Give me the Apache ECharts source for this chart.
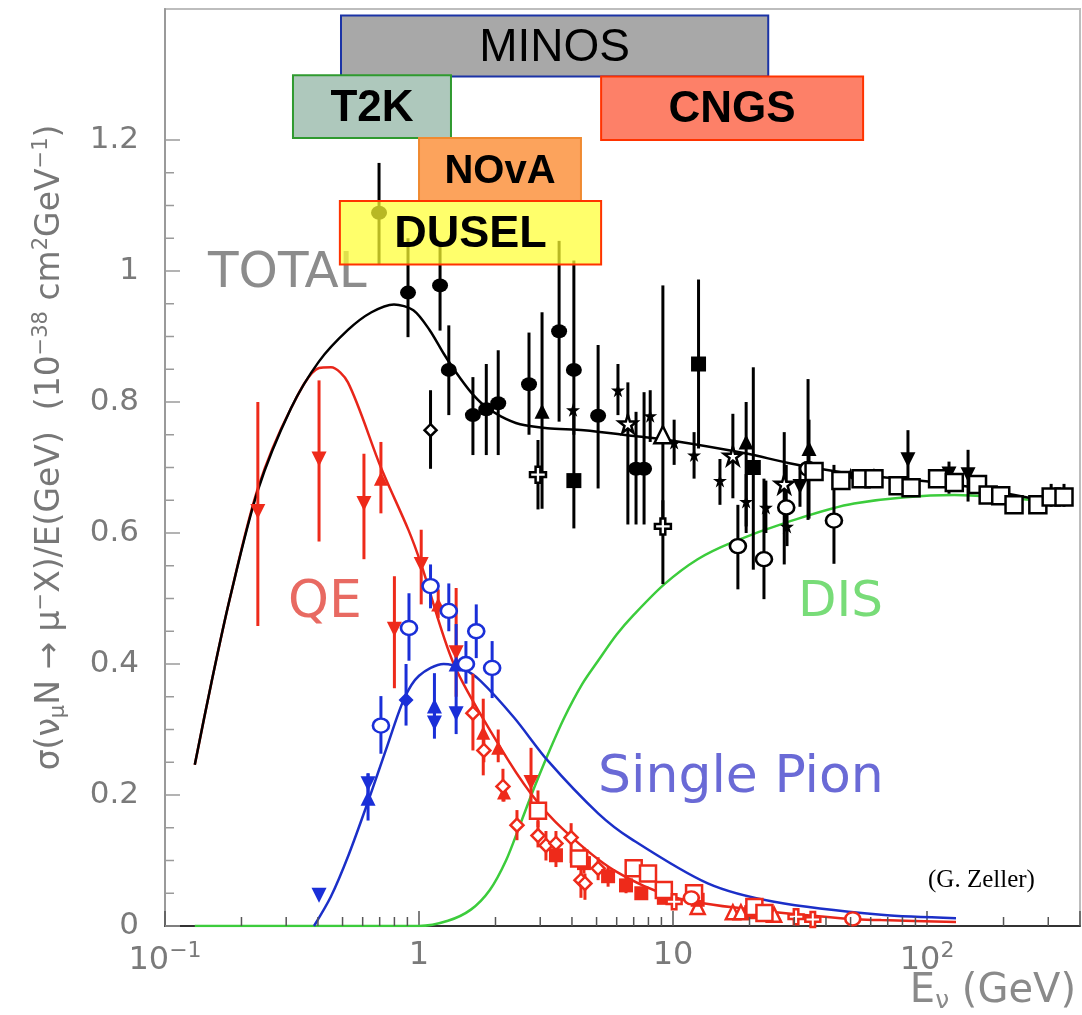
<!DOCTYPE html>
<html>
<head>
<meta charset="utf-8">
<script src="https://cdn.jsdelivr.net/npm/echarts@6/dist/echarts.min.js"></script>
<style>
  html, body { margin: 0; padding: 0; background: #fff; }
  #chart { width: 1082px; height: 1015px; }
</style>
</head>
<body>
<div id="chart"></div>
<script>
// theory curves: [E (GeV), sigma/E]
const totalCurve = [[0.131,0.246],[0.152,0.37],[0.18,0.50],[0.232,0.665],[0.313,0.79],[0.404,0.862],[0.525,0.91],[0.65,0.937],[0.797,0.949],[0.95,0.94],[1.1,0.91],[1.25,0.874],[1.4,0.845],[1.6,0.815],[1.8,0.795],[2.1,0.778],[2.5,0.766],[3.2,0.760],[4.46,0.757],[7.02,0.748],[9.55,0.742],[19.7,0.721],[28.4,0.707],[51.6,0.690],[128,0.674],[299,0.648]];
const qeCurve = [[0.131,0.246],[0.152,0.37],[0.18,0.50],[0.232,0.668],[0.313,0.79],[0.404,0.852],[0.45,0.853],[0.525,0.83],[0.708,0.70],[0.91,0.604],[1.02,0.552],[1.37,0.40],[2.05,0.278],[2.76,0.202],[3.73,0.146],[5.86,0.085],[10.1,0.044],[18.5,0.027],[45.6,0.012],[66,0.009],[130,0.006]];
const pionCurve = [[0.386,0],[0.45,0.045],[0.53,0.11],[0.63,0.19],[0.75,0.275],[0.874,0.347],[1.0,0.382],[1.25,0.40],[1.5,0.392],[1.75,0.374],[2.37,0.318],[3.22,0.252],[5.07,0.172],[6.84,0.133],[13.7,0.065],[25,0.037],[66,0.017],[130,0.012]];
const disCurve = [[0.131,0],[0.6,0],[1.0,0],[1.3,0.008],[1.6,0.025],[1.9,0.055],[2.2,0.10],[2.5,0.155],[2.8,0.205],[3.2,0.26],[3.73,0.318],[4.4,0.37],[5.07,0.405],[6.0,0.445],[7.0,0.475],[9.25,0.522],[12.5,0.56],[16.9,0.585],[28.4,0.617],[51.6,0.645],[128,0.658],[299,0.648]];

// measurements: [E, sigma/E, low end of error bar, high end of error bar]
const totFilledCircle = [[0.696,1.089,1.01,1.165],[0.905,0.967,0.899,1.05],[1.21,0.978,0.909,1.04],[1.31,0.849,0.78,0.917],[1.63,0.78,0.719,0.838],[1.84,0.789,0.719,0.858],[2.05,0.798,0.719,0.879],[2.71,0.827,0.75,0.906],[3.56,0.908,0.77,1.046],[4.07,0.849,0.75,1.016],[5.07,0.779,0.668,0.887],[7.15,0.698,0.613,0.785],[7.69,0.698,0.613,0.815]];
const totFilledSquare = [[4.07,0.68,0.607,0.79],[12.6,0.858,0.729,0.987],[20.7,0.70,0.544,0.853]];
const totFilledStar = [[4.04,0.788],[6.07,0.818,0.78,0.858],[8.13,0.779,0.739,0.818],[10.1,0.738,0.704,0.773],[12.1,0.719,0.683,0.754],[15.3,0.68,0.643,0.713],[19.4,0.648,0.61,0.69],[23.2,0.639,0.60,0.68],[28.1,0.61,0.58,0.64],[50,0.689],[61.8,0.689]];
const totOpenStar = [[6.64,0.767,0.613,0.83],[17.2,0.718,0.653,0.782],[27.4,0.675,0.552,0.754]];
const totFilledTriUp = [[3.05,0.786,0.637,0.937],[19.4,0.739,0.60,0.80],[34.3,0.729,0.622,0.773]];
const totOpenTriUp = [[9.12,0.75,0.61,0.978]];
const totFilledTriDown = [[31.6,0.671,0.64,0.704],[84.1,0.712,0.66,0.757],[122,0.69,0.66,0.709],[145,0.689,0.648,0.727]];
const totOpenCircle = [[18.0,0.58,0.514,0.643],[22.8,0.56,0.499,0.683],[27.9,0.639,0.607,0.704],[34.0,0.698,0.62,0.835],[43.0,0.619,0.553,0.704]];
const totOpenSquare = [[35.9,0.694],[45.8,0.68],[55,0.683],[61.8,0.683],[76.9,0.672],[86.5,0.669],[110,0.683],[128,0.677],[158,0.674],[174,0.658],[195,0.657],[220,0.643],[273,0.643],[308,0.655,0.64,0.675],[346,0.655,0.64,0.675]];
const totOpenDiamond = [[1.11,0.757,0.698,0.818]];
const totOpenCross = [[2.94,0.689,0.636,0.742],[9.12,0.61,0.522,0.65]];

const qeTriDown = [[0.232,0.633,0.458,0.80],[0.404,0.713,0.587,0.833],[0.607,0.645,0.56,0.721],[0.80,0.453,0.363,0.534],[1.02,0.552,0.491,0.605],[1.40,0.417,0.35,0.516],[2.76,0.219,0.176,0.272]];
const qeTriUp = [[0.708,0.683,0.63,0.739],[1.19,0.491,0.47,0.514],[1.79,0.295,0.23,0.347],[2.05,0.272,0.25,0.30],[2.16,0.204,0.19,0.22]];
const qeOpenTriUp = [[12.5,0.029],[17.2,0.021],[18.5,0.021],[25,0.017]];
const qeOpenDiamond = [[1.63,0.325,0.268,0.385],[1.80,0.268,0.25,0.29],[2.14,0.213,0.19,0.24],[2.43,0.154,0.131,0.177],[2.94,0.138,0.12,0.16],[3.16,0.123,0.10,0.145],[3.46,0.126,0.105,0.145],[3.97,0.135,0.096,0.157],[4.34,0.07,0.043,0.096],[4.5,0.065,0.04,0.08],[5.07,0.088,0.07,0.105]];
const qeFilledSquare = [[3.46,0.108,0.09,0.125],[4.46,0.096,0.08,0.12],[5.55,0.076,0.06,0.09],[6.53,0.062,0.05,0.075],[7.5,0.05],[9.2,0.043],[12.5,0.04],[20.3,0.021]];
const qeOpenSquare = [[2.94,0.176,0.151,0.207],[4.27,0.103],[7.0,0.088],[7.97,0.08],[9.2,0.055],[12.1,0.05],[20.9,0.029],[22.9,0.02]];
const qeOpenCross = [[10.1,0.037],[30.5,0.014],[35.5,0.01]];
const qeOpenCircle = [[11.8,0.043],[51,0.011]];

const pionTriDown = [[0.404,0.047],[0.63,0.217,0.195,0.233],[1.15,0.31,0.286,0.34],[1.40,0.324,0.293,0.461]];
const pionTriUp = [[0.63,0.195,0.161,0.233],[1.15,0.336,0.30,0.386],[1.40,0.40]];
const pionDiamond = [[0.889,0.345,0.306,0.40]];
const pionOpenCircle = [[0.708,0.306,0.263,0.351],[0.913,0.455,0.405,0.508],[1.11,0.519,0.485,0.552],[1.31,0.481,0.45,0.523],[1.53,0.40,0.37,0.435],[1.68,0.45,0.409,0.491],[1.94,0.394,0.348,0.435]];

// experiment energy ranges drawn as boxes
const expNames = ['MINOS', 'T2K', 'CNGS', 'NOvA', 'DUSEL'];
const expEnergy = [[0.493, 23.7], [0.319, 1.336], [5.21, 56], [1.0, 4.34], [0.488, 5.21]];
const expRow = [[1.297, 1.39], [1.203, 1.299], [1.20, 1.297], [1.107, 1.203], [1.01, 1.107]];
const expFill = ['#a8a8a8', '#aec8bc', '#fd8068', '#fca35c', 'rgba(255,255,50,0.72)'];
const expStroke = ['#1b33a6', '#2f9a2f', '#ff3300', '#f08a30', '#ff3300'];
const expFont = ['normal 46px "Liberation Sans"', 'bold 44px "Liberation Sans"', 'bold 44px "Liberation Sans"', 'bold 40px "Liberation Sans"', 'bold 45px "Liberation Sans"'];

// axis ticks
const xMinorTicks = [0.2,0.3,0.4,0.5,0.6,0.7,0.8,0.9,2,3,4,5,6,7,8,9,20,30,40,50,60,70,80,90,200,300];
const yMajorTicks = [0, 0.2, 0.4, 0.6, 0.8, 1.0, 1.2];
const yMinorTicks = [0.05,0.1,0.15,0.25,0.3,0.35,0.45,0.5,0.55,0.65,0.7,0.75,0.85,0.9,0.95,1.05,1.1,1.15];
const xTickText = {'-1': '{t|10}{sup|−1}', '0': '{t|1}', '1': '{t|10}', '2': '{t|10}{sup|2}'};

const FONT = '"DejaVu Sans", sans-serif';
const STAR = 'path://M50,0 L61,35 L98,35 L68,57 L79,91 L50,70 L21,91 L32,57 L2,35 L39,35 Z';
const CROSS = 'path://M35,0 H65 V35 H100 V65 H65 V100 H35 V65 H0 V35 H35 Z';

function points(pts, color, symbol, opts) {
    opts = opts || {};
    let rows = pts.map(p => p.length > 2 ? p : [p[0], p[1], p[1], p[1]]);
    return [{
        type: 'custom',
        z: 3,
        clip: false,
        data: rows,
        encode: { x: 0, y: [1, 2, 3] },
        renderItem: function (params, api) {
            let a = api.coord([api.value(0), api.value(3)]);
            let b = api.coord([api.value(0), api.value(2)]);
            return {
                type: 'line',
                shape: { x1: a[0], y1: a[1], x2: b[0], y2: b[1] },
                style: { stroke: color, lineWidth: 3 }
            };
        }
    }, {
        type: 'scatter',
        z: 4,
        data: rows.map(r => [r[0], r[1]]),
        symbol: symbol,
        symbolSize: opts.size || 14,
        symbolRotate: opts.rotate || 0,
        itemStyle: opts.open
            ? { color: '#fff', borderColor: color, borderWidth: 2.5, opacity: 1 }
            : { color: color, opacity: 1 }
    }];
}

function curve(data, color, width) {
    return {
        type: 'line',
        z: 2,
        data: data,
        smooth: 0.3,
        showSymbol: false,
        lineStyle: { color: color, width: width }
    };
}

const BLK = '#000', RED = '#ee2a1a', BLU = '#1a2fd8';

let series = [
    curve(disCurve, '#3ccc3c', 2.5),
    curve(pionCurve, '#1b2fc8', 2.5),
    curve(qeCurve, '#e8261a', 2.5),
    curve(totalCurve, '#000', 2.5),
].concat(
    points(totFilledCircle, BLK, 'circle', { size: [16, 14] }),
    points(totFilledSquare, BLK, 'rect', { size: 15 }),
    points(totFilledStar, BLK, STAR, { size: 14 }),
    points(totOpenStar, BLK, STAR, { size: 18, open: true }),
    points(totFilledTriUp, BLK, 'triangle', { size: 15 }),
    points(totOpenTriUp, BLK, 'triangle', { size: 17, open: true }),
    points(totFilledTriDown, BLK, 'triangle', { size: 15, rotate: 180 }),
    points(totOpenCircle, BLK, 'circle', { size: [16, 14], open: true }),
    points(totOpenSquare, BLK, 'rect', { size: 17, open: true }),
    points(totOpenDiamond, BLK, 'diamond', { size: 12, open: true }),
    points(totOpenCross, BLK, CROSS, { size: 16, open: true }),
    points(qeTriDown, RED, 'triangle', { size: 15, rotate: 180 }),
    points(qeTriUp, RED, 'triangle', { size: 14 }),
    points(qeOpenTriUp, RED, 'triangle', { size: 14, open: true }),
    points(qeOpenDiamond, RED, 'diamond', { size: 13, open: true }),
    points(qeFilledSquare, RED, 'rect', { size: 14 }),
    points(qeOpenSquare, RED, 'rect', { size: 16, open: true }),
    points(qeOpenCross, RED, CROSS, { size: 15, open: true }),
    points(qeOpenCircle, RED, 'circle', { size: [15, 13], open: true }),
    points(pionTriDown, BLU, 'triangle', { size: 15, rotate: 180 }),
    points(pionTriUp, BLU, 'triangle', { size: 15 }),
    points(pionDiamond, BLU, 'diamond', { size: 15 }),
    points(pionOpenCircle, BLU, 'circle', { size: [16, 14], open: true })
);

// tick marks placed through the axis scales: [x, y, isYAxis, length]
let tickRows = xMinorTicks.map(v => [v, 0, 0, 9])
    .concat(yMajorTicks.map(v => [0.1, v, 1, 15]))
    .concat(yMinorTicks.map(v => [0.1, v, 1, 9]));
series.push({
    type: 'custom',
    z: 5,
    clip: false,
    data: tickRows,
    encode: { x: 0, y: 1 },
    renderItem: function (params, api) {
        let p = api.coord([api.value(0), api.value(1)]);
        let len = api.value(3);
        let isY = api.value(2) === 1;
        return {
            type: 'line',
            shape: isY
                ? { x1: p[0], y1: p[1], x2: p[0] + len, y2: p[1] }
                : { x1: p[0], y1: p[1], x2: p[0], y2: p[1] - len },
            style: { stroke: isY ? '#9a9a9a' : '#555', lineWidth: 1.5 }
        };
    }
});

// experiment boxes
series.push({
    type: 'custom',
    z: 10,
    clip: false,
    data: expEnergy.map((e, i) => [e[0], e[1], expRow[i][0], expRow[i][1]]),
    encode: { x: [0, 1], y: [2, 3] },
    renderItem: function (params, api) {
        let i = params.dataIndex;
        let a = api.coord([api.value(0), api.value(3)]);
        let b = api.coord([api.value(1), api.value(2)]);
        return {
            type: 'group',
            children: [{
                type: 'rect',
                shape: { x: a[0], y: a[1], width: b[0] - a[0], height: b[1] - a[1] },
                style: { fill: expFill[i], stroke: expStroke[i], lineWidth: 2 }
            }, {
                type: 'text',
                style: {
                    x: (a[0] + b[0]) / 2,
                    y: (a[1] + b[1]) / 2 + 2,
                    text: expNames[i],
                    font: expFont[i],
                    fill: '#000',
                    align: 'center',
                    verticalAlign: 'middle'
                }
            }]
        };
    }
});

const chart = echarts.init(document.getElementById('chart'));
chart.setOption({
    animation: false,
    backgroundColor: '#fff',
    grid: {
        left: 165,
        right: 2,
        top: 9,
        bottom: 89,
        show: true,
        borderColor: '#bdbdbd',
        borderWidth: 2,
        containLabel: false,
        outerBoundsMode: 'none'
    },
    xAxis: {
        type: 'log',
        logBase: 10,
        min: 0.1,
        max: 400,
        axisLine: { lineStyle: { color: '#333', width: 2 } },
        axisTick: { inside: true, length: 15, lineStyle: { color: '#555', width: 1.5 } },
        splitLine: { show: false },
        axisLabel: {
            margin: 14,
            formatter: function (v) {
                let k = String(Math.round(Math.log10(v)));
                return xTickText[k] || '';
            },
            rich: {
                t: { fontSize: 32, color: '#7a7a7a', fontFamily: FONT },
                sup: { fontSize: 22, color: '#7a7a7a', fontFamily: FONT, padding: [0, 0, 20, 0] }
            }
        }
    },
    yAxis: {
        type: 'value',
        min: 0,
        max: 1.4,
        interval: 0.2,
        name: '{t|σ(ν}{sub|μ}{t|N → μ}{sup|−}{t|X)/E(GeV)  (10}{sup|−38}{t| cm}{sup|2}{t|GeV}{sup|−1}{t|)}',
        nameLocation: 'middle',
        nameGap: 95,
        nameRotate: 90,
        nameTextStyle: {
            padding: [0, 0, 0, 40],
            rich: {
                t: { fontSize: 33, color: '#777', fontFamily: FONT },
                sub: { fontSize: 21, color: '#777', fontFamily: FONT, padding: [16, 0, 0, 0] },
                sup: { fontSize: 21, color: '#777', fontFamily: FONT, padding: [0, 0, 18, 0] }
            }
        },
        axisLine: { show: true, lineStyle: { color: '#9a9a9a', width: 2 } },
        axisTick: { show: false },
        minorTick: { show: false },
        splitLine: { show: false },
        axisLabel: {
            margin: 26,
            fontSize: 31,
            color: '#7a7a7a',
            fontFamily: FONT,
            formatter: function (v) {
                if (v > 1.3) return '';
                return String(Math.round(v * 10) / 10);
            }
        }
    },
    graphic: [
        { type: 'text', left: 208, top: 249, style: { text: 'TOTAL', font: '50px "DejaVu Sans"', fill: '#8c8c8c' } },
        { type: 'text', left: 288, top: 577, style: { text: 'QE', font: '52px "DejaVu Sans"', fill: '#e86a62' } },
        { type: 'text', left: 798, top: 578, style: { text: 'DIS', font: '50px "DejaVu Sans"', fill: '#78dc78' } },
        { type: 'text', left: 598, top: 752, style: { text: 'Single Pion', font: '52px "DejaVu Sans"', fill: '#6a6ad6' } },
        { type: 'text', left: 928, top: 868, style: { text: '(G. Zeller)', font: '25px "Liberation Serif"', fill: '#000' } },
        {
            type: 'text', right: 6, top: 972,
            style: {
                text: '{t|E}{sub|ν}{t| (GeV)}',
                rich: {
                    t: { fontSize: 40, fill: '#8a8a8a', fontFamily: FONT },
                    sub: { fontSize: 25, fill: '#8a8a8a', fontFamily: FONT, padding: [18, 0, 0, 0] }
                }
            }
        }
    ],
    series: series
});
</script>
</body>
</html>
